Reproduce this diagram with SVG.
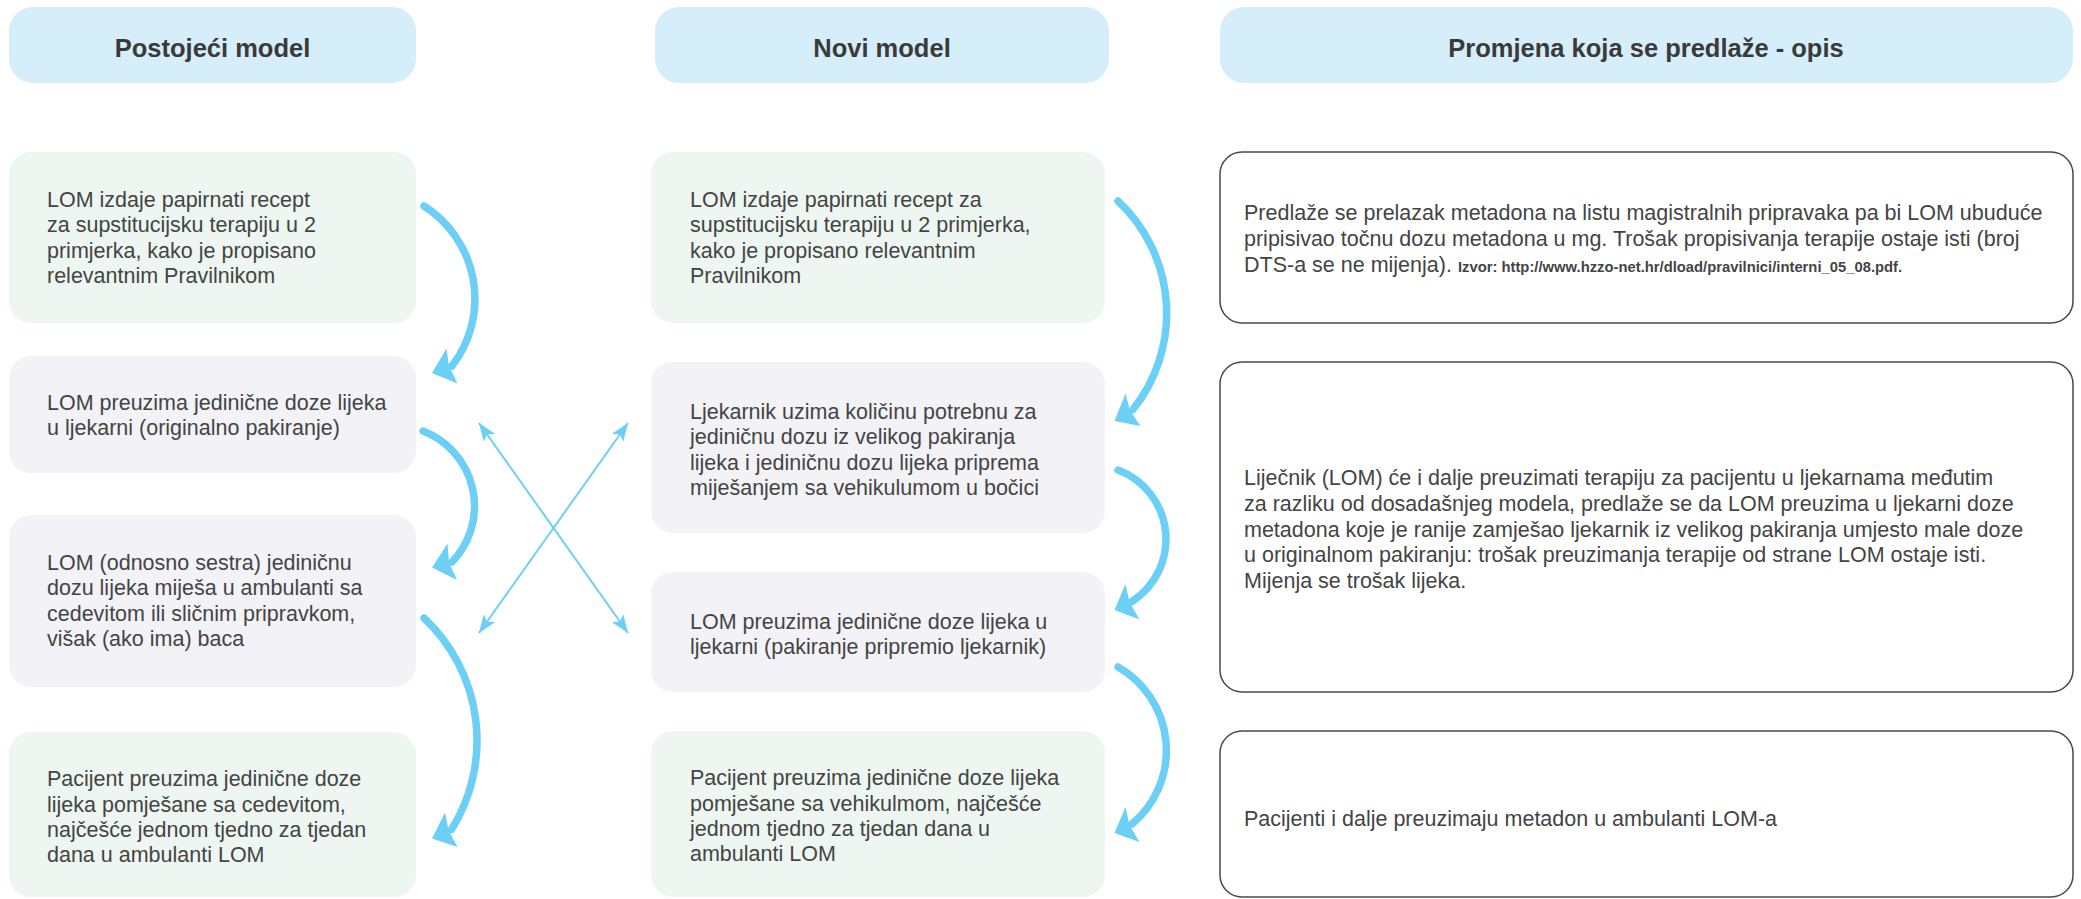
<svg xmlns="http://www.w3.org/2000/svg" width="2081" height="899" viewBox="0 0 2081 899">
<defs>
<style>
.hdr{fill:#d6eefa}
.green{fill:#eef6f1}
.lav{fill:#f3f2f7}
.out{fill:#ffffff;stroke:#4a4a4a;stroke-width:1.5}
.ht{font-family:"Liberation Sans",Arial,sans-serif;font-weight:bold;font-size:25.5px;fill:#3a3a3a;text-anchor:middle}
.t{font-family:"Liberation Sans",Arial,sans-serif;font-size:21.5px;fill:#444444}
.src{font-family:"Liberation Sans",Arial,sans-serif;font-weight:bold;font-size:14.8px;fill:#444444}
.thick{fill:none;stroke:#6ccff6;stroke-width:7.5;stroke-linecap:round}
.head{fill:#6ccff6}
.thin{fill:none;stroke:#6ccff6;stroke-width:2;marker-start:url(#ah);marker-end:url(#ah)}
</style>
<marker id="ah" markerUnits="userSpaceOnUse" markerWidth="20" markerHeight="16" refX="18" refY="8" orient="auto-start-reverse" overflow="visible">
<path d="M18,8 L0,1 L4,8 L0,15 Z" fill="#6ccff6"/>
</marker>
</defs>
<rect width="2081" height="899" fill="#ffffff"/>

<g id="header-postojeci">
<rect class="hdr" x="9" y="7" width="407" height="76" rx="24"/>
<text class="ht" x="212.5" y="57">Postojeći model</text>
</g>
<g id="header-novi">
<rect class="hdr" x="655" y="7" width="454" height="76" rx="24"/>
<text class="ht" x="882" y="57">Novi model</text>
</g>
<g id="header-promjena">
<rect class="hdr" x="1220" y="7" width="853" height="76" rx="24"/>
<text class="ht" x="1646" y="57">Promjena koja se predlaže - opis</text>
</g>

<g id="p1">
<rect class="green" x="9" y="152" width="407" height="171" rx="22"/>
<text class="t" x="47" y="207">LOM izdaje papirnati recept</text>
<text class="t" x="47" y="232">za supstitucijsku terapiju u 2</text>
<text class="t" x="47" y="258">primjerka, kako je propisano</text>
<text class="t" x="47" y="283">relevantnim Pravilnikom</text>
</g>
<g id="p2">
<rect class="lav" x="9" y="356" width="407" height="117" rx="22"/>
<text class="t" x="47" y="409.5">LOM preuzima jedinične doze lijeka</text>
<text class="t" x="47" y="435">u ljekarni (originalno pakiranje)</text>
</g>
<g id="p3">
<rect class="lav" x="9" y="515" width="407" height="172" rx="22"/>
<text class="t" x="47" y="569.5">LOM (odnosno sestra) jediničnu</text>
<text class="t" x="47" y="595">dozu lijeka miješa u ambulanti sa</text>
<text class="t" x="47" y="620.5">cedevitom ili sličnim pripravkom,</text>
<text class="t" x="47" y="646">višak (ako ima) baca</text>
</g>
<g id="p4">
<rect class="green" x="9" y="732" width="407" height="165" rx="22"/>
<text class="t" x="47" y="786">Pacijent preuzima jedinične doze</text>
<text class="t" x="47" y="811.5">lijeka pomješane sa cedevitom,</text>
<text class="t" x="47" y="837">najčešće jednom tjedno za tjedan</text>
<text class="t" x="47" y="862">dana u ambulanti LOM</text>
</g>

<g id="n1">
<rect class="green" x="651" y="152" width="454" height="171" rx="22"/>
<text class="t" x="690" y="207">LOM izdaje papirnati recept za</text>
<text class="t" x="690" y="232">supstitucijsku terapiju u 2 primjerka,</text>
<text class="t" x="690" y="257.5">kako je propisano relevantnim</text>
<text class="t" x="690" y="283">Pravilnikom</text>
</g>
<g id="n2">
<rect class="lav" x="651" y="362" width="454" height="171" rx="22"/>
<text class="t" x="690" y="418.5">Ljekarnik uzima količinu potrebnu za</text>
<text class="t" x="690" y="443.5">jediničnu dozu iz velikog pakiranja</text>
<text class="t" x="690" y="469.5">lijeka i jediničnu dozu lijeka priprema</text>
<text class="t" x="690" y="495">miješanjem sa vehikulumom u bočici</text>
</g>
<g id="n3">
<rect class="lav" x="651" y="572" width="454" height="120" rx="22"/>
<text class="t" x="690" y="628.5">LOM preuzima jedinične doze lijeka u</text>
<text class="t" x="690" y="654">ljekarni (pakiranje pripremio ljekarnik)</text>
</g>
<g id="n4">
<rect class="green" x="651" y="731" width="454" height="166" rx="22"/>
<text class="t" x="690" y="785">Pacijent preuzima jedinične doze lijeka</text>
<text class="t" x="690" y="810.5">pomješane sa vehikulmom, najčešće</text>
<text class="t" x="690" y="836">jednom tjedno za tjedan dana u</text>
<text class="t" x="690" y="861">ambulanti LOM</text>
</g>

<g id="d1">
<rect class="out" x="1220" y="152" width="853" height="171" rx="22"/>
<text class="t" x="1244" y="220">Predlaže se prelazak metadona na listu magistralnih pripravaka pa bi LOM ubuduće</text>
<text class="t" x="1244" y="246">pripisivao točnu dozu metadona u mg. Trošak propisivanja terapije ostaje isti (broj</text>
<text class="t" x="1244" y="272">DTS-a se ne mijenja). <tspan class="src">Izvor: http://www.hzzo-net.hr/dload/pravilnici/interni_05_08.pdf.</tspan></text>
</g>
<g id="d2">
<rect class="out" x="1220" y="362" width="853" height="330" rx="22"/>
<text class="t" x="1244" y="485">Liječnik (LOM) će i dalje preuzimati terapiju za pacijentu u ljekarnama međutim</text>
<text class="t" x="1244" y="511">za razliku od dosadašnjeg modela, predlaže se da LOM preuzima u ljekarni doze</text>
<text class="t" x="1244" y="536.5">metadona koje je ranije zamješao ljekarnik iz velikog pakiranja umjesto male doze</text>
<text class="t" x="1244" y="562">u originalnom pakiranju: trošak preuzimanja terapije od strane LOM ostaje isti.</text>
<text class="t" x="1244" y="587.5">Mijenja se trošak lijeka.</text>
</g>
<g id="d3">
<rect class="out" x="1220" y="731" width="853" height="166" rx="22"/>
<text class="t" x="1244" y="826">Pacijenti i dalje preuzimaju metadon u ambulanti LOM-a</text>
</g>

<g id="connectors">
<path class="thick" d="M424,206 A110,110 0 0 1 452,366"/>
<polygon class="head" points="432,373 446.5,348.5 449,366 457.5,383.5"/>
<path class="thick" d="M423,431 A80.5,80.5 0 0 1 452,562"/>
<polygon class="head" points="432,567.5 447.5,543.5 449,562.5 457,580"/>
<path class="thick" d="M424,618 A168,168 0 0 1 451.5,829.5"/>
<polygon class="head" points="432,838.5 445,812.5 448.5,830 457.5,847"/>

<path class="thick" d="M1118,201 A154,154 0 0 1 1133,409.5"/>
<polygon class="head" points="1114.5,421 1125.5,393.5 1130,410.5 1140.5,426"/>
<path class="thick" d="M1118,470 A74,74 0 0 1 1132,601.5"/>
<polygon class="head" points="1114.5,610 1125.5,584 1129.5,602 1139.5,619.5"/>
<path class="thick" d="M1118,667 A96,96 0 0 1 1132,824"/>
<polygon class="head" points="1114.5,833 1125.5,807 1129.5,825 1139.5,842"/>

<line class="thin" x1="479" y1="423" x2="628" y2="633"/>
<line class="thin" x1="628" y1="423" x2="479" y2="633"/>
</g>
</svg>
